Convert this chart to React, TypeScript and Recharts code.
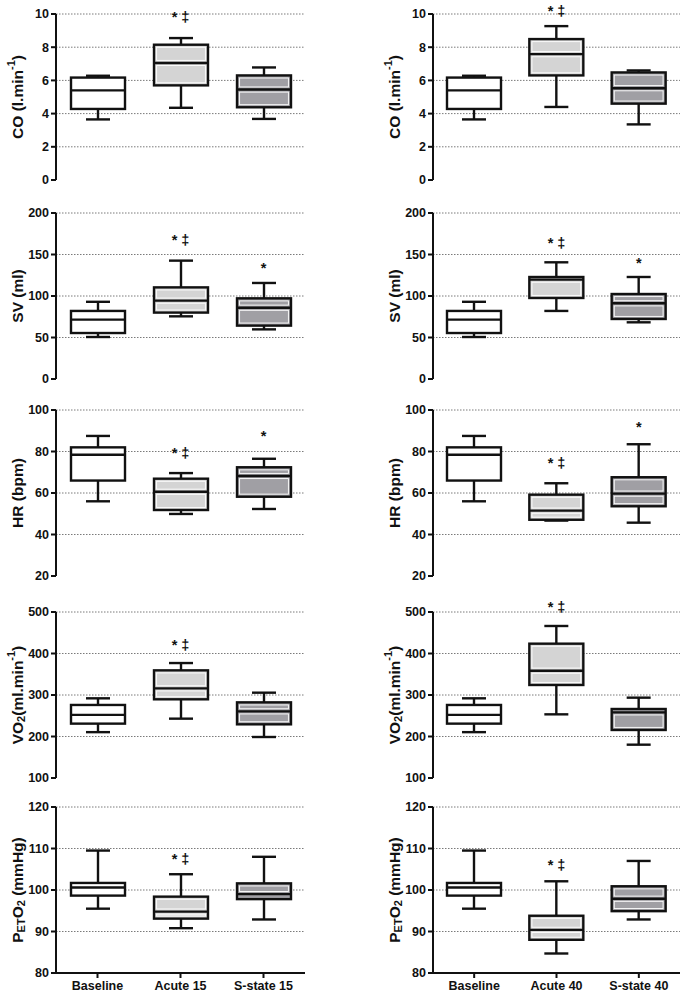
import React from "react";
import { ComposedChart, Bar, XAxis, YAxis, CartesianGrid, ReferenceDot } from "recharts";

const groups15 = ["Baseline", "Acute 15", "S-state 15"];
const groups40 = ["Baseline", "Acute 40", "S-state 40"];

// tick labels per row
const coTicks = [0, 2, 4, 6, 8, 10];
const svTicks = [0, 50, 100, 150, 200];
const hrTicks = [20, 40, 60, 80, 100];
const vo2Ticks = [100, 200, 300, 400, 500];
const petTicks = [80, 90, 100, 110, 120];

// [min, q1, median, q3, max] per group
const co15 = [[3.65, 4.28, 5.4, 6.17, 6.28], [4.35, 5.7, 7.05, 8.15, 8.55], [3.68, 4.38, 5.45, 6.3, 6.78]];
const co40 = [[3.65, 4.28, 5.4, 6.17, 6.28], [4.4, 6.3, 7.58, 8.49, 9.27], [3.35, 4.6, 5.53, 6.48, 6.6]];
const sv15 = [[50.6, 55.4, 71.5, 82, 93], [75.5, 80, 94.4, 110.4, 142.6], [59.8, 64.3, 85.9, 97.2, 115.7]];
const sv40 = [[50.6, 55.4, 71.5, 82, 93], [82, 97.6, 119.7, 122.9, 140.6], [68.3, 72.3, 91.2, 102.4, 122.9]];
const hr15 = [[56, 66, 78.4, 82, 87.5], [49.9, 51.8, 60.6, 66.9, 69.6], [52.3, 58.2, 68.2, 72.4, 76.5]];
const hr40 = [[56, 66, 78.4, 82, 87.5], [46.7, 47.1, 51.5, 59.2, 64.7], [45.7, 53.6, 59.7, 67.6, 83.5]];
const vo215 = [[210.5, 231, 252, 276, 292], [243, 289.6, 316, 359.4, 377], [198.8, 229.3, 260.6, 282.3, 305.6]];
const vo240 = [[210.5, 231, 252, 276, 292], [253.4, 324.1, 358.6, 423.7, 466.3], [180.3, 215.7, 258.2, 266.3, 293.6]];
const pet15 = [[95.5, 98.65, 100.6, 101.7, 109.5], [90.8, 93.1, 94.8, 98.4, 103.8], [92.9, 97.8, 99.0, 101.6, 108.0]];
const pet40 = [[95.5, 98.65, 100.6, 101.7, 109.5], [84.7, 88.0, 90.4, 93.8, 102.1], [92.9, 94.9, 97.9, 100.9, 107.0]];

// significance marks: text per group and where it sits
const markText = ["", "* \u2021", "*"];
const co15Marks = [null, 9.8, null];
const co40Marks = [null, 10.2, null];
const sv15Marks = [null, 168, 134];
const sv40Marks = [null, 164, 140];
const hr15Marks = [null, 79.4, 87.4];
const hr40Marks = [null, 74.3, 91.7];
const vo215Marks = [null, 420, null];
const vo240Marks = [null, 511, null];
const pet15Marks = [null, 107.5, null];
const pet40Marks = [null, 106.1, null];

const FONT = '"Liberation Sans", Arial, sans-serif';
const INK = "#111";
const FILLS = ["#ffffff", "#d4d4d4", "#a09fa4"];
const PLOT_TOPS = [14, 213, 410, 612, 807];
const PLOT_H = 166;
const TOP = 20;

const TITLES: Record<string, React.ReactNode> = {
  co: <>CO (l.min<tspan dy={-6} fontSize={11}>-1</tspan><tspan dy={6}>)</tspan></>,
  sv: <>SV (ml)</>,
  hr: <>HR (bpm)</>,
  vo2: <>VO<tspan dy={4} fontSize={11}>2</tspan><tspan dy={-4}>(ml.min</tspan><tspan dy={-6} fontSize={11}>-1</tspan><tspan dy={6}>)</tspan></>,
  pet: <>P<tspan dy={4} fontSize={11}>ET</tspan><tspan dy={-4}>O</tspan><tspan dy={4} fontSize={11}>2</tspan><tspan dy={-4}> (mmHg)</tspan></>,
};

function BoxShape(props: any) {
  const { x, y, width, height, payload, index } = props;
  if (!payload) return null;
  const [lo, q1, med, q3, hi] = payload.stats;
  const top = Math.min(y, y + height);
  const h = Math.abs(height);
  const py = (v: number) => top + ((hi - v) / (hi - lo)) * h;
  const cx = x + width / 2;
  const sw = 2.4;
  const cap = 12;
  const ins = 2.6;
  const upH = py(med) - py(q3) - 2 * ins;
  const dnH = py(q1) - py(med) - 2 * ins;
  return (
    <g>
      <line x1={cx} x2={cx} y1={py(hi)} y2={py(q3)} stroke={INK} strokeWidth={sw} />
      <line x1={cx} x2={cx} y1={py(q1)} y2={py(lo)} stroke={INK} strokeWidth={sw} />
      <line x1={cx - cap} x2={cx + cap} y1={py(hi)} y2={py(hi)} stroke={INK} strokeWidth={sw} />
      <line x1={cx - cap} x2={cx + cap} y1={py(lo)} y2={py(lo)} stroke={INK} strokeWidth={sw} />
      <rect x={x} y={py(q3)} width={width} height={py(q1) - py(q3)} fill={FILLS[index % 3]} stroke={INK} strokeWidth={sw} />
      {upH > 0 && <rect x={x + ins} y={py(q3) + ins} width={width - 2 * ins} height={upH} fill="none" stroke="#fff" strokeWidth={0.9} />}
      {dnH > 0 && <rect x={x + ins} y={py(med) + ins} width={width - 2 * ins} height={dnH} fill="none" stroke="#fff" strokeWidth={0.9} />}
      <line x1={x} x2={x + width} y1={py(med)} y2={py(med)} stroke={INK} strokeWidth={sw} />
    </g>
  );
}

function Panel({ groups, stats, marks, ticks, title, col, row, showX }: any) {
  const data = groups.map((g: string, i: number) => ({ group: g, range: [stats[i][0], stats[i][4]], stats: stats[i] }));
  const yw = col === 0 ? 56 : 90;
  const right = col === 0 ? 38 : 6;
  const h = showX ? TOP + PLOT_H + 22 : TOP + PLOT_H + 10;
  const axisStyle = { stroke: INK, strokeWidth: 2 };
  const tickStyle = { fill: INK, fontSize: 12.5, fontWeight: 700, fontFamily: FONT };
  const renderTitle = (p: any) => {
    const vb = p.viewBox || { x: 0, y: TOP, width: yw, height: PLOT_H };
    const tx = vb.x + vb.width - 39;
    const ty = vb.y + vb.height / 2;
    return (
      <text x={tx} y={ty} transform={`rotate(-90 ${tx} ${ty})`} textAnchor="middle" dominantBaseline="central"
        fontFamily={FONT} fontWeight={700} fontSize={15.5} fill={INK}>
        {TITLES[title]}
      </text>
    );
  };
  return (
    <div style={{ position: "absolute", left: col * 343, top: PLOT_TOPS[row] - TOP }}>
      <ComposedChart width={343} height={h} data={data} margin={{ top: TOP, right, left: 0, bottom: showX ? 0 : 10 }}>
        <CartesianGrid vertical={false} horizontalValues={ticks.slice(1)} stroke="#7a7a7a" strokeDasharray="1.5 1.5" />
        <XAxis dataKey="group" type="category" hide={!showX} height={22} axisLine={axisStyle} tickLine={axisStyle}
          tickSize={5} tickMargin={3} tick={tickStyle} interval={0} />
        <YAxis type="number" domain={[ticks[0], ticks[ticks.length - 1]]} ticks={ticks} interval={0} width={yw}
          axisLine={axisStyle} tickLine={axisStyle} tickSize={5} tickMargin={2} tick={tickStyle}
          label={{ content: renderTitle }} />
        <Bar dataKey="range" barSize={54} shape={BoxShape} isAnimationActive={false} />
        {marks.map((m: number | null, i: number) => m === null ? null : (
          <ReferenceDot key={i} x={groups[i]} y={m} r={0} ifOverflow="visible"
            shape={(p: any) => (
              <text x={p.cx} y={p.cy} dy={5} textAnchor="middle" fontFamily={FONT} fontWeight={700} fontSize={14.5} fill={INK}>
                {markText[i]}
              </text>
            )} />
        ))}
      </ComposedChart>
    </div>
  );
}

const ROWS = [
  { title: "co", ticks: coTicks, l: co15, r: co40, ml: co15Marks, mr: co40Marks },
  { title: "sv", ticks: svTicks, l: sv15, r: sv40, ml: sv15Marks, mr: sv40Marks },
  { title: "hr", ticks: hrTicks, l: hr15, r: hr40, ml: hr15Marks, mr: hr40Marks },
  { title: "vo2", ticks: vo2Ticks, l: vo215, r: vo240, ml: vo215Marks, mr: vo240Marks },
  { title: "pet", ticks: petTicks, l: pet15, r: pet40, ml: pet15Marks, mr: pet40Marks },
];

export default function App() {
  return (
    <div style={{ position: "absolute", left: 0, top: 0, width: 686, height: 995, background: "#fff", overflow: "hidden" }}>
      {ROWS.map((r, i) => (
        <React.Fragment key={r.title}>
          <Panel groups={groups15} stats={r.l} marks={r.ml} ticks={r.ticks} title={r.title} col={0} row={i} showX={i === 4} />
          <Panel groups={groups40} stats={r.r} marks={r.mr} ticks={r.ticks} title={r.title} col={1} row={i} showX={i === 4} />
        </React.Fragment>
      ))}
    </div>
  );
}
